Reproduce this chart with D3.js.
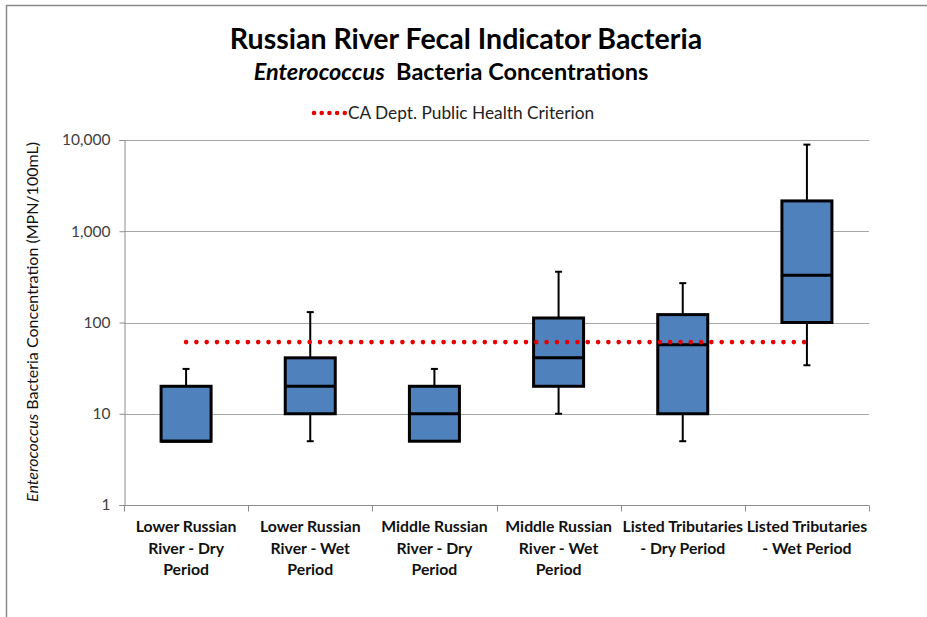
<!DOCTYPE html>
<html>
<head>
<meta charset="utf-8">
<script src="https://cdn.jsdelivr.net/npm/d3@7"></script>
<style>
  html, body { margin: 0; padding: 0; background: #fff; }
  svg text { font-family: Lato, "Open Sans", sans-serif; }
</style>
</head>
<body>
<svg id="chart" width="927" height="617"></svg>
<script>
// Categories (each label split into its display lines)
const categories = [
  "Lower Russian River - Dry Period",
  "Lower Russian River - Wet Period",
  "Middle Russian River - Dry Period",
  "Middle Russian River - Wet Period",
  "Listed Tributaries - Dry Period",
  "Listed Tributaries - Wet Period"
];
const categoryLines = [
  ["Lower Russian", "River - Dry", "Period"],
  ["Lower Russian", "River - Wet", "Period"],
  ["Middle Russian", "River - Dry", "Period"],
  ["Middle Russian", "River - Wet", "Period"],
  ["Listed Tributaries", "- Dry Period"],
  ["Listed Tributaries", "- Wet Period"]
];

// Box-plot statistics, MPN/100mL
const minValues    = [5, 5, 5, 10, 5, 34];
const q1Values     = [5, 10, 5, 20, 10, 100];
const medianValues = [5, 20, 10, 41, 57, 330];
const q3Values     = [20, 41, 20, 112, 122, 2150];
const maxValues    = [31, 130, 31, 360, 270, 8900];

// Health criterion (single reference level)
const criterionValue = 61;
const criterionLabel = "CA Dept. Public Health Criterion";

const yTickValues = [1, 10, 100, 1000, 10000];

const svg = d3.select("#chart");
const W = 927, H = 617;
const plot = { left: 124, right: 869, top: 140, bottom: 505 };
const red = "#e60000";

// Frame lines around the chart area
svg.append("line").attr("x1", 6).attr("x2", W).attr("y1", 5.5).attr("y2", 5.5)
  .attr("stroke", "#8a8a8a").attr("stroke-width", 1.5);
svg.append("line").attr("x1", 6.5).attr("x2", 6.5).attr("y1", 5).attr("y2", H)
  .attr("stroke", "#8a8a8a").attr("stroke-width", 1.5);

const x = d3.scaleBand().domain(categories).range([plot.left, plot.right]).paddingInner(0).paddingOuter(0);
const y = d3.scaleLog().domain([1, 10000]).range([plot.bottom, plot.top]);

// Gridlines
svg.append("g").selectAll("line").data(yTickValues.slice(1)).join("line")
  .attr("x1", plot.left).attr("x2", plot.right)
  .attr("y1", d => Math.round(y(d)) + 0.5).attr("y2", d => Math.round(y(d)) + 0.5)
  .attr("stroke", "#a6a6a6").attr("stroke-width", 1);

// Y axis
const yAxis = d3.axisLeft(y).tickValues(yTickValues).tickFormat(d3.format(",")).tickSize(5).tickPadding(9);
const gy = svg.append("g").attr("transform", `translate(${plot.left + 0.5},0)`).call(yAxis);
gy.select(".domain").attr("stroke", "#8c8c8c");
gy.selectAll(".tick line").attr("stroke", "#8c8c8c");
gy.selectAll(".tick text").attr("font-size", 15.5).attr("fill", "#404040").attr("font-family", "Lato");

// X axis (ticks at category boundaries)
const gx = svg.append("g").attr("transform", `translate(0,${plot.bottom + 0.5})`);
gx.append("line").attr("x1", plot.left).attr("x2", plot.right).attr("stroke", "#8c8c8c");
const bounds = categories.map(c => x(c)).concat([x(categories[categories.length - 1]) + x.bandwidth()]);
gx.selectAll("line.tk").data(bounds).join("line").attr("class", "tk")
  .attr("x1", d => Math.round(d) + 0.5).attr("x2", d => Math.round(d) + 0.5)
  .attr("y1", 0).attr("y2", 6).attr("stroke", "#8c8c8c");
gx.selectAll("text.cat").data(categoryLines).join("text").attr("class", "cat")
  .attr("text-anchor", "middle").attr("font-weight", "bold").attr("font-size", 15.8).attr("fill", "#111")
  .each(function(lines, i) {
    const cx = x(categories[i]) + x.bandwidth() / 2;
    d3.select(this).selectAll("tspan").data(lines).join("tspan")
      .attr("x", cx).attr("y", (d, j) => 26.5 + j * 21.5).text(d => d);
  });

// Boxes
const boxW = 50;
const stats = categories.map((c, i) => ({
  c, min: minValues[i], q1: q1Values[i], med: medianValues[i], q3: q3Values[i], max: maxValues[i]
}));
const g = svg.append("g");
stats.forEach(s => {
  const cx = x(s.c) + x.bandwidth() / 2;
  const gg = g.append("g");
  // whiskers
  if (s.max > s.q3) {
    gg.append("line").attr("x1", cx).attr("x2", cx).attr("y1", y(s.max)).attr("y2", y(s.q3))
      .attr("stroke", "#000").attr("stroke-width", 2);
    gg.append("line").attr("x1", cx - 3.5).attr("x2", cx + 3.5).attr("y1", y(s.max)).attr("y2", y(s.max))
      .attr("stroke", "#000").attr("stroke-width", 2);
  }
  if (s.min < s.q1) {
    gg.append("line").attr("x1", cx).attr("x2", cx).attr("y1", y(s.min)).attr("y2", y(s.q1))
      .attr("stroke", "#000").attr("stroke-width", 2);
    gg.append("line").attr("x1", cx - 3.5).attr("x2", cx + 3.5).attr("y1", y(s.min)).attr("y2", y(s.min))
      .attr("stroke", "#000").attr("stroke-width", 2);
  }
  gg.append("rect").attr("x", cx - boxW / 2).attr("width", boxW)
    .attr("y", y(s.q3)).attr("height", y(s.q1) - y(s.q3))
    .attr("fill", "#4f81bd").attr("stroke", "#000").attr("stroke-width", 3);
  gg.append("line").attr("x1", cx - boxW / 2).attr("x2", cx + boxW / 2)
    .attr("y1", y(s.med)).attr("y2", y(s.med)).attr("stroke", "#000").attr("stroke-width", 3);
});

// Criterion dotted line from first to last category centre
const firstC = x(categories[0]) + x.bandwidth() / 2;
const lastC = x(categories[categories.length - 1]) + x.bandwidth() / 2;
svg.append("line").attr("x1", firstC).attr("x2", lastC)
  .attr("y1", y(criterionValue)).attr("y2", y(criterionValue))
  .attr("stroke", red).attr("stroke-width", 4.6).attr("stroke-linecap", "round")
  .attr("stroke-dasharray", "0 10.3");

// Titles
svg.append("text").attr("x", 466).attr("y", 49).attr("text-anchor", "middle")
  .attr("font-size", 28.5).attr("font-weight", "bold").attr("fill", "#000")
  .text("Russian River Fecal Indicator Bacteria");
const sub = svg.append("text").attr("x", 451).attr("y", 80).attr("text-anchor", "middle")
  .attr("font-size", 23.5).attr("font-weight", "bold").attr("fill", "#000");
sub.append("tspan").attr("font-style", "italic").text("Enterococcus");
sub.append("tspan").text("\u00a0 Bacteria Concentrations");

// Legend: five dots and label
svg.append("g").selectAll("circle").data(d3.range(5)).join("circle")
  .attr("cx", i => 314 + i * 7.7).attr("cy", 113).attr("r", 2.3).attr("fill", red);
svg.append("text").attr("x", 348).attr("y", 119).attr("font-size", 17.3).attr("fill", "#222")
  .text(criterionLabel);

// Y axis title
const yt = svg.append("text").attr("transform", `translate(38,322) rotate(-90)`)
  .attr("text-anchor", "middle").attr("font-size", 16).attr("fill", "#111");
yt.append("tspan").attr("font-style", "italic").text("Enterococcus");
yt.append("tspan").text(" Bacteria Concentration (MPN/100mL)");
</script>
</body>
</html>
